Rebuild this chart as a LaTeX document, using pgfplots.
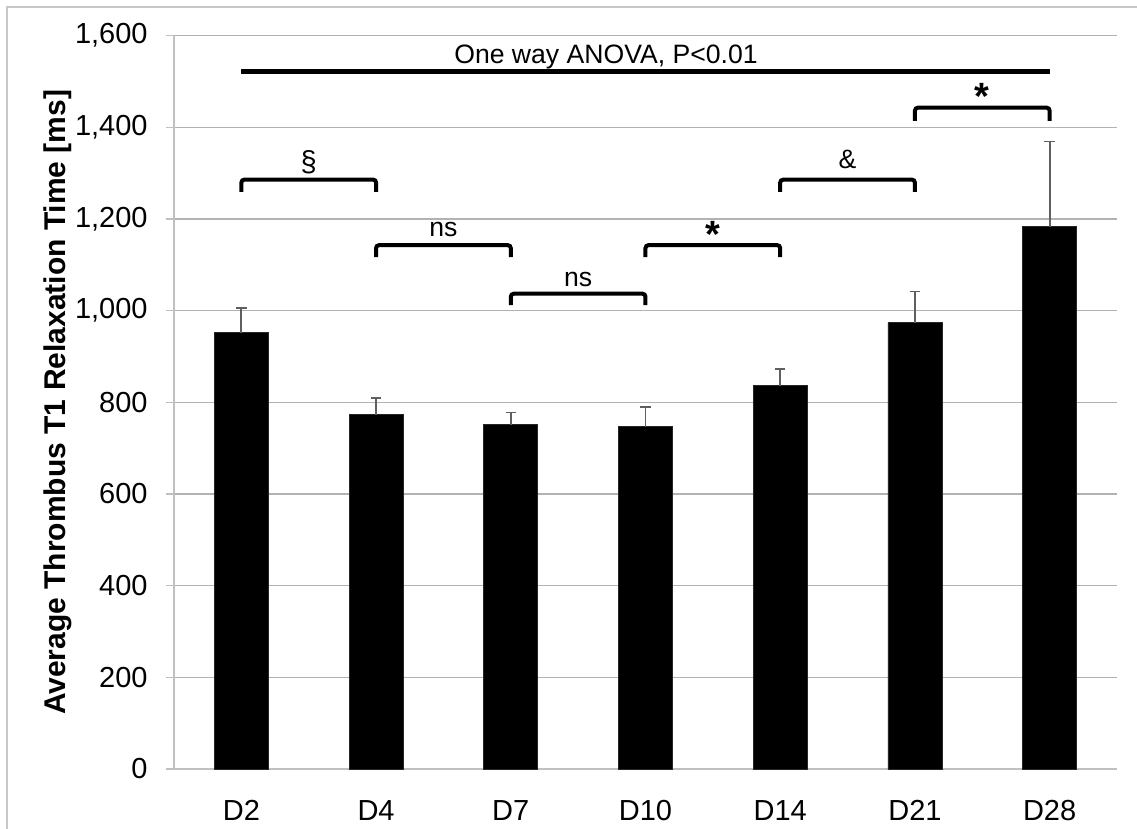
\documentclass[border=0pt]{standalone}
\usepackage{fontspec}
\setmainfont{Liberation Sans}
\usepackage{pgfplots}
\pgfplotsset{compat=1.18}
\definecolor{gridgray}{RGB}{178,178,178}
\definecolor{axgray}{RGB}{192,192,192}
\definecolor{errgray}{RGB}{95,95,95}
\definecolor{framegray}{RGB}{200,200,200}
\begin{document}
\begin{tikzpicture}
\path[use as bounding box] (0pt,0pt) rectangle (568.5pt,414.5pt);
\draw[framegray, line width=1pt] (3.5pt,-5pt) -- (3.5pt,411pt) -- (575pt,411pt);
\begin{axis}[
  at={(87pt,30pt)}, anchor=south west, scale only axis,
  width=471.5pt, height=366.65pt,
  xmin=-0.5, xmax=6.5, ymin=0, ymax=1600,
  clip=false,
  axis x line*=bottom, axis y line*=left,
  axis line style={draw=axgray, line width=1pt, -},
  ybar, bar width=27pt,
  ytick={0,200,...,1600},
  ymajorgrids, grid style={gridgray, line width=0.75pt},
  tick align=outside,
  major tick length=4pt,
  tick style={axgray, line width=0.8pt},
  /pgf/number format/assume math mode=true,
  /pgf/number format/1000 sep={,},
  yticklabel style={font=\fontsize{14.5}{16}\selectfont, inner sep=0pt, xshift=-9pt},
  xtick={0,1,2,3,4,5,6},
  xticklabels={D2,D4,D7,D10,D14,D21,D28},
  major x tick style={draw=none},
  xticklabel style={font=\fontsize{14.5}{16}\selectfont, inner sep=0pt, anchor=north, yshift=-11.5pt},
  extra x ticks={-0.5,0.5,1.5,2.5,3.5,4.5,5.5,6.5},
  extra x tick labels={},
  extra x tick style={grid=none, major tick length=4pt, tick style={axgray, line width=0.8pt}},
  ylabel={\textbf{Average Thrombus T1 Relaxation Time [ms]}},
  ylabel style={font=\fontsize{15}{17}\selectfont, at={(axis description cs:-0.123,0.5)}, anchor=center},
]
\addplot[fill=black, draw=black!85, line width=0.4pt,
  error bars/.cd, y dir=plus, y explicit,
  error bar style={errgray, line width=0.9pt},
  error mark options={rotate=90, errgray, line width=0.9pt, mark size=2.6pt}]
  coordinates {
  (0,952) +- (0,53)
  (1,773) +- (0,37)
  (2,751) +- (0,27)
  (3,747) +- (0,42)
  (4,836) +- (0,37)
  (5,974) +- (0,68)
  (6,1183) +- (0,186)
};
% significance annotations
\draw[line width=2.5pt] (axis cs:0,1522) -- (axis cs:6,1522);
\node[anchor=base, font=\fontsize{13.3}{15}\selectfont] at (axis cs:2.707,1540) {One way ANOVA, P<0.01};
\draw[line width=2pt, rounded corners=1.5pt] (axis cs:0,1259) -- (axis cs:0,1286) -- (axis cs:1,1286) -- (axis cs:1,1259);
\node[font=\fontsize{14.5}{16}\selectfont] at (axis cs:0.5,1324) {§};
\draw[line width=2pt, rounded corners=1.5pt] (axis cs:1,1117) -- (axis cs:1,1143) -- (axis cs:2,1143) -- (axis cs:2,1117);
\node[anchor=base, font=\fontsize{13.3}{15}\selectfont] at (axis cs:1.5,1162) {ns};
\draw[line width=2pt, rounded corners=1.5pt] (axis cs:2,1012) -- (axis cs:2,1037) -- (axis cs:3,1037) -- (axis cs:3,1012);
\node[anchor=base, font=\fontsize{13.3}{15}\selectfont] at (axis cs:2.5,1052) {ns};
\draw[line width=2pt, rounded corners=1.5pt] (axis cs:3,1117) -- (axis cs:3,1143) -- (axis cs:4,1143) -- (axis cs:4,1117);
\node[anchor=base, font=\bfseries\fontsize{19}{21}\selectfont] at (axis cs:3.5,1138) {*};
\draw[line width=2pt, rounded corners=1.5pt] (axis cs:4,1259) -- (axis cs:4,1286) -- (axis cs:5,1286) -- (axis cs:5,1259);
\node[font=\fontsize{13.3}{15}\selectfont] at (axis cs:4.5,1329) {\&};
\draw[line width=2pt, rounded corners=1.5pt] (axis cs:5,1414) -- (axis cs:5,1443) -- (axis cs:6,1443) -- (axis cs:6,1414);
\node[anchor=base, font=\bfseries\fontsize{19}{21}\selectfont] at (axis cs:5.5,1440) {*};
\end{axis}
\end{tikzpicture}
\end{document}
